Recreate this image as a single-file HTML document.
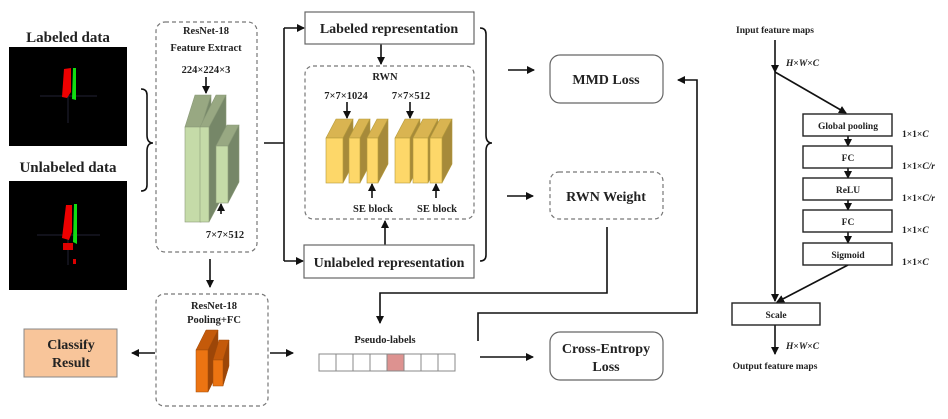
<!DOCTYPE html>
<html><head><meta charset="utf-8"><style>
html,body{margin:0;padding:0;background:#fff;}
svg{display:block;}
text{font-family:"Liberation Serif",serif;font-weight:bold;fill:#222;}
</style></head><body>
<svg width="948" height="419" viewBox="0 0 948 419" xmlns="http://www.w3.org/2000/svg">
<defs>
<marker id="a" markerWidth="8" markerHeight="8" refX="7" refY="4" orient="auto" markerUnits="userSpaceOnUse"><path d="M0,0 L8,4 L0,8 z" fill="#111"/></marker>
</defs>
<g stroke="#111" stroke-width="1.6" fill="none">
<path d="M141,89 q6,0 6,6 v40 q0,8 6,8 q-6,0 -6,8 v34 q0,6 -6,6"/>
<path d="M480,28 q6,0 6,6 v101 q0,8 6,8 q-6,0 -6,8 v104 q0,6 -6,6"/>
<path d="M264,143 H284 M284,28 V261"/>
<path d="M284,28 H304" marker-end="url(#a)"/>
<path d="M284,261 H303" marker-end="url(#a)"/>
<path d="M381,44 V64" marker-end="url(#a)"/>
<path d="M385,245 V221" marker-end="url(#a)"/>
<path d="M206,77 V93" marker-end="url(#a)"/>
<path d="M221,214 V204" marker-end="url(#a)"/>
<path d="M347,102 V118" marker-end="url(#a)"/>
<path d="M410,102 V118" marker-end="url(#a)"/>
<path d="M372,198 V184" marker-end="url(#a)"/>
<path d="M436,198 V184" marker-end="url(#a)"/>
<path d="M210,259 V287" marker-end="url(#a)"/>
<path d="M155,353 H132" marker-end="url(#a)"/>
<path d="M270,353 H293" marker-end="url(#a)"/>
<path d="M508,70 H534" marker-end="url(#a)"/>
<path d="M507,196 H533" marker-end="url(#a)"/>
<path d="M607,227 V293 H380 V323" marker-end="url(#a)"/>
<path d="M478,341 V313 H697 V80 H678" marker-end="url(#a)"/>
<path d="M480,357 H533" marker-end="url(#a)"/>
<path d="M775,40 V72" marker-end="url(#a)"/>
<path d="M775,72 V301" marker-end="url(#a)"/>
<path d="M775,72 L846,113" marker-end="url(#a)"/>
<path d="M848,265 L777,302" marker-end="url(#a)"/>
<path d="M848,136 V146" marker-end="url(#a)"/>
<path d="M848,168 V178" marker-end="url(#a)"/>
<path d="M848,200 V210" marker-end="url(#a)"/>
<path d="M848,232 V243" marker-end="url(#a)"/>
<path d="M775,325 V354" marker-end="url(#a)"/>
</g>
<rect x="9" y="47" width="118" height="99" fill="#000"/>
<path d="M40,96 H97 M68,96 V123" stroke="#223" stroke-width="1"/>
<path d="M64,69 L71,68 L71,92 L67,98 L62,97 z" fill="#e00"/>
<path d="M73,68 L76,68 L76,100 L72,99 z" fill="#1d1"/>
<rect x="9" y="181" width="118" height="109" fill="#000"/>
<path d="M37,235 H100 M68,235 V265" stroke="#223" stroke-width="1"/>
<path d="M66,205 L72,205 L72,232 L69,240 L62,238 z" fill="#e00"/>
<path d="M74,204 L77,204 L77,244 L73,242 z" fill="#1d1"/>
<rect x="63" y="243" width="10" height="7" fill="#d00"/>
<rect x="73" y="259" width="3" height="5" fill="#d00"/>
<text x="68" y="42" font-size="15" text-anchor="middle">Labeled data</text>
<text x="68" y="172" font-size="15" text-anchor="middle">Unlabeled data</text>
<g fill="none" stroke="#777" stroke-width="1.2" stroke-dasharray="4,3">
<rect x="156" y="22" width="101" height="230" rx="9"/>
<rect x="305" y="66" width="169" height="153" rx="8"/>
<rect x="156" y="294" width="112" height="112" rx="8"/>
<rect x="550" y="172" width="113" height="47" rx="9"/>
</g>
<g fill="#fff" stroke="#666" stroke-width="1.2">
<rect x="305" y="12" width="169" height="32"/>
<rect x="304" y="245" width="170" height="33"/>
<rect x="550" y="55" width="113" height="48" rx="10"/>
<rect x="550" y="332" width="113" height="48" rx="10"/>
</g>
<rect x="24" y="329" width="93" height="48" fill="#f8c59a" stroke="#888" stroke-width="1"/>
<g stroke="#8a9a78" stroke-width="0.6">
<path d="M185,127 L195,95 L211,95 L201,127 z" fill="#98a882"/><path d="M201,127 L211,95 L211,190 L201,222 z" fill="#768768"/><rect x="185" y="127" width="16" height="95" fill="#c5dba8"/>
<path d="M200,127 L216,95 L226,95 L210,127 z" fill="#98a882"/><path d="M209,127 L226,95 L226,190 L209,222 z" fill="#768768"/><rect x="200" y="127" width="9" height="95" fill="#c5dba8"/>
<path d="M216,146 L227,125 L239,125 L228,146 z" fill="#98a882"/><path d="M228,146 L239,125 L239,182 L228,203 z" fill="#768768"/><rect x="216" y="146" width="12" height="57" fill="#c5dba8"/>
</g>
<g stroke="#b59a3a" stroke-width="0.6">
<path d="M326,138 L336,119 L353,119 L343,138 z" fill="#d9b451"/><path d="M343,138 L353,119 L353,164 L343,183 z" fill="#a68a3a"/><rect x="326" y="138" width="17" height="45" fill="#fdd769"/>
<path d="M349,138 L359,119 L370,119 L360,138 z" fill="#d9b451"/><path d="M360,138 L370,119 L370,164 L360,183 z" fill="#a68a3a"/><rect x="349" y="138" width="11" height="45" fill="#fdd769"/>
<path d="M367,138 L377,119 L388,119 L378,138 z" fill="#d9b451"/><path d="M378,138 L388,119 L388,164 L378,183 z" fill="#a68a3a"/><rect x="367" y="138" width="11" height="45" fill="#fdd769"/>
<path d="M395,138 L405,119 L420,119 L410,138 z" fill="#d9b451"/><path d="M410,138 L420,119 L420,164 L410,183 z" fill="#a68a3a"/><rect x="395" y="138" width="15" height="45" fill="#fdd769"/>
<path d="M413,138 L423,119 L438,119 L428,138 z" fill="#d9b451"/><path d="M428,138 L438,119 L438,164 L428,183 z" fill="#a68a3a"/><rect x="413" y="138" width="15" height="45" fill="#fdd769"/>
<path d="M430,138 L440,119 L452,119 L442,138 z" fill="#d9b451"/><path d="M442,138 L452,119 L452,164 L442,183 z" fill="#a68a3a"/><rect x="430" y="138" width="12" height="45" fill="#fdd769"/>
</g>
<g stroke="#a04a08" stroke-width="0.5">
<path d="M196,350 L206,330 L218,330 L208,350 z" fill="#c45a0a"/><path d="M208,350 L218,330 L218,372 L208,392 z" fill="#9c4608"/><rect x="196" y="350" width="12" height="42" fill="#ec7412"/>
<path d="M213,360 L219,340 L229,340 L223,360 z" fill="#c45a0a"/><path d="M223,360 L229,340 L229,366 L223,386 z" fill="#9c4608"/><rect x="213" y="360" width="10" height="26" fill="#ec7412"/>
</g>
<g stroke="#888" stroke-width="1" fill="#fff">
<rect x="319" y="354" width="17" height="17"/><rect x="336" y="354" width="17" height="17"/><rect x="353" y="354" width="17" height="17"/><rect x="370" y="354" width="17" height="17"/>
<rect x="387" y="354" width="17" height="17" fill="#dd9290"/><rect x="404" y="354" width="17" height="17"/><rect x="421" y="354" width="17" height="17"/><rect x="438" y="354" width="17" height="17"/>
</g>
<g fill="#fff" stroke="#222" stroke-width="1.4">
<rect x="803" y="114" width="89" height="22"/><rect x="803" y="146" width="89" height="22"/><rect x="803" y="178" width="89" height="22"/><rect x="803" y="210" width="89" height="22"/><rect x="803" y="243" width="89" height="22"/>
<rect x="732" y="303" width="88" height="22"/>
</g>
<g font-size="10.5" text-anchor="middle">
<text x="206" y="34">ResNet-18</text>
<text x="206" y="51">Feature Extract</text>
<text x="206" y="73">224×224×3</text>
<text x="225" y="238">7×7×512</text>
<text x="385" y="80">RWN</text>
<text x="346" y="99">7×7×1024</text>
<text x="411" y="99">7×7×512</text>
<text x="373" y="212">SE block</text>
<text x="437" y="212">SE block</text>
<text x="214" y="309">ResNet-18</text>
<text x="214" y="323">Pooling+FC</text>
<text x="385" y="343">Pseudo-labels</text>
</g>
<g font-size="14" text-anchor="middle">
<text x="389" y="33">Labeled representation</text>
<text x="389" y="267">Unlabeled representation</text>
<text x="606" y="84">MMD Loss</text>
<text x="606" y="201">RWN Weight</text>
<text x="606" y="353">Cross-Entropy</text>
<text x="606" y="371">Loss</text>
<text x="71" y="349">Classify</text>
<text x="71" y="367">Result</text>
</g>
<g font-size="9.5" text-anchor="middle">
<text x="775" y="33">Input feature maps</text>
<text x="848" y="129">Global pooling</text>
<text x="848" y="161">FC</text>
<text x="848" y="193">ReLU</text>
<text x="848" y="225">FC</text>
<text x="848" y="258">Sigmoid</text>
<text x="776" y="318">Scale</text>
<text x="775" y="369">Output feature maps</text>
</g>
<g font-size="9.5">
<text x="786" y="66"><tspan font-style="italic">H</tspan>×<tspan font-style="italic">W</tspan>×<tspan font-style="italic">C</tspan></text>
<text x="786" y="349"><tspan font-style="italic">H</tspan>×<tspan font-style="italic">W</tspan>×<tspan font-style="italic">C</tspan></text>
<text x="902" y="137">1×1×<tspan font-style="italic">C</tspan></text>
<text x="902" y="169">1×1×<tspan font-style="italic">C/r</tspan></text>
<text x="902" y="201">1×1×<tspan font-style="italic">C/r</tspan></text>
<text x="902" y="233">1×1×<tspan font-style="italic">C</tspan></text>
<text x="902" y="265">1×1×<tspan font-style="italic">C</tspan></text>
</g>
</svg>
</body></html>
